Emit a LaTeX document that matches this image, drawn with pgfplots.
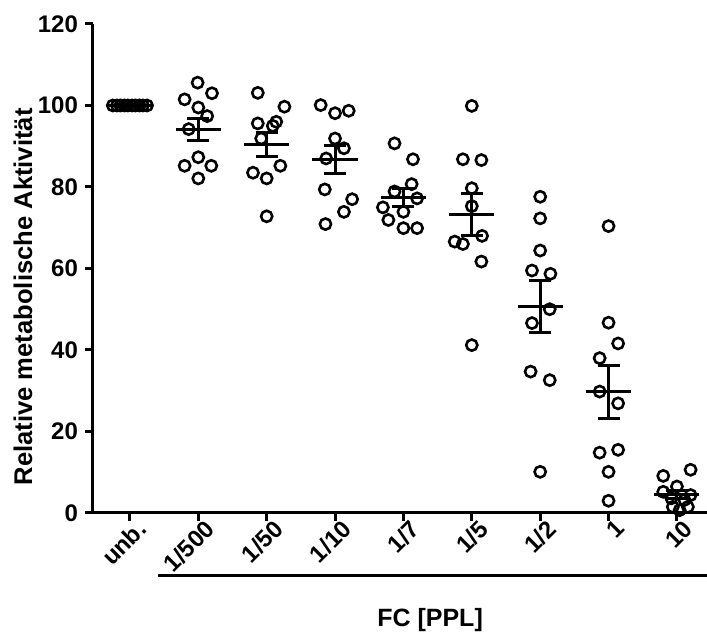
\documentclass[border=0pt]{standalone}
\usepackage{pgfplots}
\usepackage{pgfplotstable}
\pgfplotsset{compat=1.18}
\usepackage{fontspec}
\setmainfont{Liberation Sans}

% g = group index, dx = horizontal scatter, y = value
\pgfplotstableread{
g dx y
0 -0.25 100
0 -0.19 100
0 -0.14 100
0 -0.08 100
0 -0.03 100
0 0.03 100
0 0.08 100
0 0.14 100
0 0.19 100
0 0.25 100
1 -0.01 105.6
1 -0.20 101.5
1 0.20 103.0
1 0.00 99.5
1 0.13 97.4
1 -0.14 94.2
1 0.00 87.3
1 -0.20 85.2
1 0.19 85.2
1 0.00 82.1
2 -0.13 103.1
2 0.26 99.7
2 -0.13 95.6
2 0.14 96.0
2 0.09 95.0
2 -0.08 91.9
2 0.20 85.2
2 -0.20 83.5
2 0.00 82.1
2 0.00 72.8
3 -0.21 100.1
3 0.00 98.1
3 0.20 98.7
3 0.00 91.9
3 0.13 89.5
3 -0.13 87.0
3 -0.15 79.4
3 0.25 77.0
3 0.13 73.9
3 -0.14 70.9
4 -0.13 90.7
4 0.14 86.8
4 0.12 80.7
4 -0.13 78.9
4 0.20 77.2
4 -0.30 75.0
4 0.00 73.9
4 -0.22 71.9
4 0.00 69.9
4 0.20 69.9
5 0.00 99.9
5 -0.13 86.8
5 0.14 86.6
5 0.00 79.7
5 0.00 75.3
5 0.15 68.0
5 -0.25 66.6
5 -0.13 66.0
5 0.14 61.7
5 0.00 41.2
6 0.00 77.6
6 0.00 72.3
6 0.00 64.4
6 -0.12 59.5
6 0.15 58.7
6 0.14 50.0
6 -0.12 46.6
6 -0.14 34.7
6 0.14 32.6
6 0.00 10.1
7 0.00 70.4
7 0.00 46.7
7 0.14 41.6
7 -0.13 38.0
7 -0.13 29.8
7 0.14 26.9
7 -0.13 14.8
7 0.14 15.5
7 0.00 10.1
7 0.00 3.0
8 -0.20 9.1
8 0.20 10.6
8 0.00 6.5
8 -0.20 5.2
8 0.20 4.4
8 -0.08 3.6
8 0.11 3.2
8 -0.06 1.5
8 0.16 1.5
8 0.04 0.7
}\points

% mean and SEM per group
\pgfplotstableread{
g mean sem
0 100 0
1 94.1 2.7
2 90.5 2.9
3 86.7 3.4
4 77.5 2.2
5 73.2 5.1
6 50.6 6.4
7 29.7 6.4
8 4.6 1.0
}\summary

\begin{document}
\begin{tikzpicture}
\begin{axis}[
  scale only axis,
  width=307pt, height=244.5pt,
  xmin=-0.54, xmax=8.44,
  ymin=0, ymax=120,
  clip=false,
  axis x line*=bottom, axis y line*=left,
  axis line style={line width=1.5pt},
  tick align=outside,
  major tick length=4pt,
  tick style={line width=1.5pt, black},
  xtick={0,...,8},
  xticklabels={unb.,1/500,1/50,1/10,1/7,1/5,1/2,1,10},
  ytick={0,20,...,120},
  tick label style={font=\fontsize{12}{13}\selectfont\bfseries},
  /pgf/number format/assume math mode=true,
  x tick label style={rotate=45, anchor=north east, inner sep=1pt, xshift=4pt},
  ylabel={Relative metabolische Aktivität},
  every axis y label/.style={at={(axis description cs:-0.114,0.442)}, rotate=90, anchor=center,
    font=\fontsize{12.8}{14}\selectfont\bfseries},
  xlabel={FC [PPL]},
  every axis x label/.style={at={(axis description cs:0.549,-0.219)}, anchor=center,
    font=\fontsize{12.5}{14}\selectfont\bfseries},
]
\addplot[only marks, mark=o, mark size=2.8pt, mark options={line width=1.3pt, black}]
  table[x expr=\thisrow{g}+\thisrow{dx}, y=y]{\points};

% mean lines
\addplot[draw=none, no markers, error bars/.cd, x dir=both, x fixed=0.33, error mark=none,
  error bar style={draw=black, line width=1.5pt}]
  table[x=g, y=mean]{\summary};

% SEM bars
\addplot[draw=none, no markers, error bars/.cd, y dir=both, y explicit, error mark=|,
  error bar style={draw=black, line width=1.5pt},
  error mark options={draw=black, line width=1.5pt, mark size=5.5pt}]
  table[x=g, y=mean, y error=sem]{\summary};

\draw[line width=1.5pt] (axis description cs:0.106,-0.127) -- (axis description cs:1,-0.127);
\end{axis}
\pgfresetboundingbox
\path[use as bounding box] ([xshift=-46.5pt, yshift=-60.5pt]current axis.south west)
  rectangle ([yshift=12pt]current axis.north east);
\end{tikzpicture}
\end{document}
